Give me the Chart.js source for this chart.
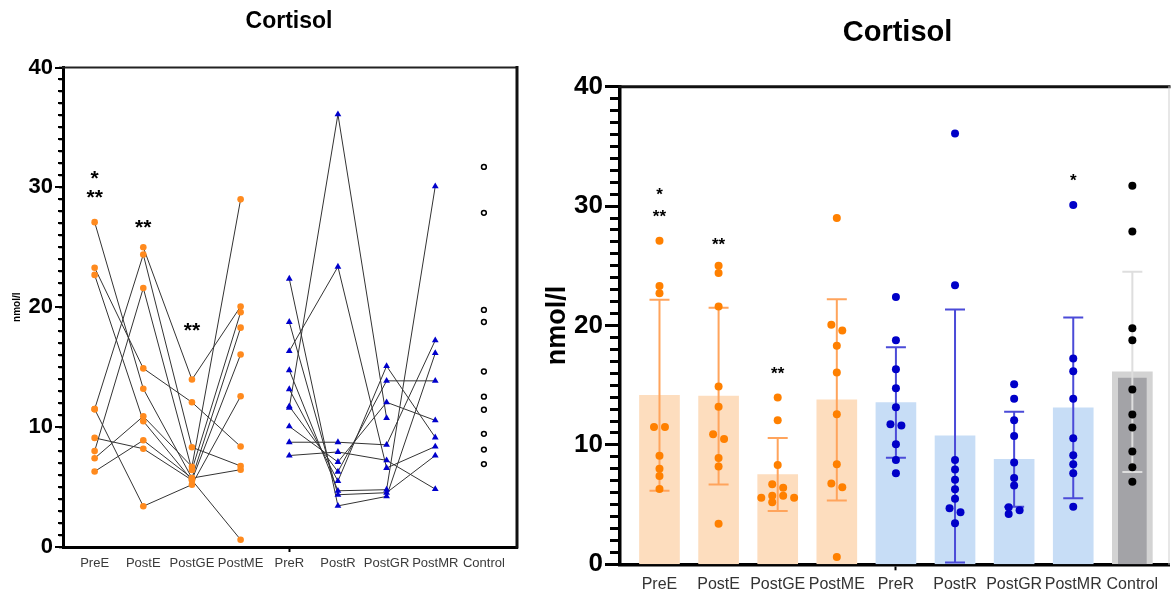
<!DOCTYPE html>
<html>
<head>
<meta charset="utf-8">
<script src="https://cdn.jsdelivr.net/npm/chart.js@4.4.1/dist/chart.umd.min.js"></script>
<style>
  body { margin: 0; background: #fff; width: 1173px; height: 597px; overflow: hidden; position: relative; }
  #left { position: absolute; left: 0; top: 0; }
  #right { position: absolute; left: 540px; top: 0; }
</style>
</head>
<body>
<canvas id="left" width="540" height="597"></canvas>
<canvas id="right" width="633" height="597"></canvas>
<script>
var categories = ["PreE", "PostE", "PostGE", "PostME", "PreR", "PostR", "PostGR", "PostMR", "Control"];

// one entry per subject, null = no value
var preE   = [27.1, 23.3, 22.7, 11.5, 11.5, 9.1, 8.0, 7.4, 6.3, null];
var postE  = [13.2, 14.9, 10.5, 3.4, 24.4, 8.2, 21.6, 10.9, 8.9, 25.0];
var postGE = [5.75, 12.07, 5.58, 5.2, 8.32, 5.58, 6.42, 6.7, 5.75, 13.97];
var postME = [18.3, 8.38, 16.06, 12.57, 6.76, 0.61, 19.58, 29.0, 6.45, 20.06];

var preR   = [22.38, 18.77, 16.34, 14.75, 13.16, 11.73, 11.62, 10.06, 8.74, 7.63];
var postR  = [3.43, 4.36, 23.38, 4.69, 5.5, 6.28, 36.09, 7.09, 8.74, 7.93];
var postGR = [4.22, 4.53, 6.59, 4.78, 15.09, 13.86, 10.75, 12.07, 8.52, 7.23];
var postMR = [16.17, 7.63, 8.38, 30.09, 9.14, 13.86, null, 10.56, 17.24, 4.83];

var control = [31.71, 27.88, 19.78, 18.77, 14.64, 12.54, 11.45, 9.44, 8.13, 6.92];

// bar chart: mean and SD per category
var means = [14.16, 14.08, 7.52, 13.77, 13.55, 10.75, 8.8, 13.1, 16.12];
var sds   = [8.0, 7.4, 3.05, 8.43, 4.63, 10.6, 3.97, 7.57, 8.39];
var controlInner = 15.59;

// y axis ticks
var majorTickValues = [0, 10, 20, 30, 40];

// significance marks
var leftMarkCat  = [0, 0, 1, 2];
var leftMarkVal  = [31.1, 29.5, 27.0, 18.4];
var leftMarkText = ["*", "**", "**", "**"];
var rightMarkCat  = [0, 0, 1, 2, 7];
var rightMarkVal  = [31.2, 29.4, 27.0, 16.2, 32.4];
var rightMarkText = ["*", "**", "**", "**", "*"];

Chart.defaults.font.family = "Arial, 'Liberation Sans', sans-serif";
Chart.defaults.animation = false;

var eGroup = [preE, postE, postGE, postME];
var rGroup = [preR, postR, postGR, postMR];

function catTicks(s) { s.ticks = categories.map(function (c, i) { return { value: i }; }); }
// a tick at every unit, labels only on the major values
function unitTicks(s) {
  var t = [];
  for (var v = 0; v <= 40; v++) t.push({ value: v });
  s.ticks = t;
}
function majorLabel(v) { return majorTickValues.indexOf(v) >= 0 ? String(v) : ""; }

function groupPoints(group, start, offsets) {
  var pts = [];
  group.forEach(function (arr, k) {
    arr.forEach(function (v, s) {
      if (v === null) return;
      pts.push({ x: start + k + (offsets ? offsets[k][s] : 0), y: v });
    });
  });
  return pts;
}

// simple beeswarm so equal values sit side by side (x offset in category units)
function swarm(vals) {
  var yPx = 11.94, xPx = 59.4, step = 11, minD = 6.5;
  var off = vals.map(function () { return 0; });
  var order = [];
  vals.forEach(function (v, i) { if (v !== null) order.push(i); });
  order.sort(function (a, b) { return vals[b] - vals[a]; });
  var clusters = [], cur = [];
  order.forEach(function (i, k) {
    if (k > 0 && (vals[order[k - 1]] - vals[i]) * yPx >= minD) { clusters.push(cur); cur = []; }
    cur.push(i);
  });
  if (cur.length) clusters.push(cur);
  clusters.forEach(function (cl) {
    var placed = [];
    cl.forEach(function (i) {
      var cands = [0, 1, -1, 2, -2, 3, -3];
      for (var n = 0; n < cands.length; n++) {
        var c = cands[n];
        var ok = placed.every(function (p) {
          var dx = (c - p.c) * step, dy = (vals[i] - vals[p.i]) * yPx;
          return dx * dx + dy * dy >= minD * minD;
        });
        if (ok) { placed.push({ i: i, c: c }); break; }
      }
    });
    var cs = placed.map(function (p) { return p.c; });
    var mid = (Math.max.apply(null, cs) + Math.min.apply(null, cs)) / 2;
    placed.forEach(function (p) { off[p.i] = (p.c - mid) * step / xPx; });
  });
  return off;
}

function framePlugin(top, right) {
  return {
    id: "frame",
    afterDraw: function (chart) {
      var a = chart.chartArea, ctx = chart.ctx;
      ctx.save();
      ctx.lineCap = "square";
      ctx.strokeStyle = top.color; ctx.lineWidth = top.width;
      ctx.beginPath(); ctx.moveTo(a.left, a.top); ctx.lineTo(a.right, a.top); ctx.stroke();
      ctx.strokeStyle = right.color; ctx.lineWidth = right.width;
      ctx.beginPath(); ctx.moveTo(a.right, a.top); ctx.lineTo(a.right, a.bottom); ctx.stroke();
      ctx.restore();
    }
  };
}

// tick comb along the y axis: short marks at every unit, longer at majors
function tickCombPlugin(minorLen, majorLen, width, axisW) {
  return {
    id: "tickComb",
    afterDraw: function (chart) {
      var y = chart.scales.y, ctx = chart.ctx, x0 = Math.round(chart.chartArea.left - axisW / 2);
      ctx.save();
      ctx.fillStyle = "#000";
      for (var v = 0; v <= 40; v++) {
        var len = majorTickValues.indexOf(v) >= 0 ? majorLen : minorLen;
        var py = y.getPixelForValue(v);
        ctx.fillRect(x0 - len, Math.round(py - width / 2), len, width);
      }
      ctx.restore();
    }
  };
}

function textPlugin(title, titleSize, tx, ty, cats, vals, texts, markSize) {
  return {
    id: "texts",
    afterDraw: function (chart) {
      var ctx = chart.ctx;
      ctx.save();
      ctx.fillStyle = "#000";
      ctx.textAlign = "center";
      ctx.textBaseline = "middle";
      ctx.font = "bold " + titleSize + "px Arial, 'Liberation Sans', sans-serif";
      ctx.fillText(title, tx, ty);
      ctx.font = "bold " + markSize + "px Arial, 'Liberation Sans', sans-serif";
      for (var i = 0; i < cats.length; i++) {
        var px = chart.scales.x.getPixelForValue(cats[i]);
        var py = chart.scales.y.getPixelForValue(vals[i]);
        ctx.fillText(texts[i], px, py + 0.22 * markSize);
      }
      ctx.restore();
    }
  };
}

// ---------- left: paired lines ----------
var leftSets = [];
var orangeL = "#FF8A1E", blueL = "#0000CC";
leftSets.push({ data: groupPoints(eGroup, 0), pointStyle: "circle", pointRadius: 3.3, backgroundColor: orangeL, borderWidth: 0, order: 0 });
leftSets.push({ data: groupPoints(rGroup, 4), pointStyle: "triangle", pointRadius: 3.9, backgroundColor: blueL, borderWidth: 0, order: 0 });
leftSets.push({ data: control.map(function (v) { return { x: 8, y: v }; }), pointStyle: "circle", pointRadius: 2.4, backgroundColor: "#fff", borderColor: "#000", borderWidth: 1.5, order: 0 });
[eGroup, rGroup].forEach(function (group, g) {
  for (var s = 0; s < group[0].length; s++) {
    var pts = [];
    group.forEach(function (arr, k) { if (arr[s] !== null) pts.push({ x: g * 4 + k, y: arr[s] }); });
    leftSets.push({ data: pts, showLine: true, borderColor: "#333", borderWidth: 1, pointRadius: 0, order: 5 });
  }
});

new Chart(document.getElementById("left"), {
  type: "scatter",
  data: { datasets: leftSets },
  options: {
    responsive: false,
    layout: { padding: { left: 0, right: 23, top: 67.5, bottom: 0 } },
    plugins: { legend: { display: false }, tooltip: { enabled: false } },
    scales: {
      x: {
        type: "linear", min: -0.65, max: 8.68,
        afterBuildTicks: catTicks,
        afterFit: function (s) { s.height = 50; },
        ticks: { callback: function (v) { return categories[v]; }, font: { size: 13 }, color: "#3a3a3a", padding: 4, maxRotation: 0, autoSkip: false },
        grid: { drawOnChartArea: false, tickLength: 5, tickWidth: 2, tickColor: function (c) { return c.tick && c.tick.value === 4 ? "#000" : "rgba(0,0,0,0)"; } },
        border: { color: "#000", width: 3 }
      },
      y: {
        min: 0, max: 40,
        afterBuildTicks: unitTicks,
        afterFit: function (s) { s.width = 63; },
        ticks: { callback: majorLabel, autoSkip: false, font: { size: 22, weight: "bold" }, color: "#000", padding: 6 },
        grid: { drawOnChartArea: false, tickLength: 4, tickWidth: 1.6, tickColor: "#000" },
        border: { color: "#000", width: 3 },
        title: { display: true, text: "nmol/l", font: { size: 10, weight: "bold" }, color: "#000", padding: { top: 11, bottom: 0 } }
      }
    }
  },
  plugins: [
    framePlugin({ color: "#222", width: 2 }, { color: "#111", width: 3 }),
    tickCombPlugin(4, 7, 2, 3),
    textPlugin("Cortisol", 23, 289, 21.5, leftMarkCat, leftMarkVal, leftMarkText, 21)
  ]
});

// ---------- right: bars with SD and points ----------
var eOff = eGroup.map(swarm), rOff = rGroup.map(swarm), cOff = swarm(control);
var barColors = ["#FDDDBE", "#FDDDBE", "#FDDDBE", "#FDDDBE", "#C7DDF6", "#C7DDF6", "#C7DDF6", "#C7DDF6", "#D3D3D3"];
var errColors = ["#FFA45C", "#FFA45C", "#FFA45C", "#FFA45C", "#4B4BD8", "#4B4BD8", "#4B4BD8", "#4B4BD8", "#DEDEDE"];

var errorBarPlugin = {
  id: "errorBars",
  afterDatasetDraw: function (chart, args) {
    if (args.index !== 3) return;
    var ctx = chart.ctx, xs = chart.scales.x, ys = chart.scales.y;
    ctx.save();
    ctx.lineWidth = 2;
    for (var i = 0; i < means.length; i++) {
      var px = xs.getPixelForValue(i);
      var hi = ys.getPixelForValue(means[i] + sds[i]);
      var lo = ys.getPixelForValue(Math.max(0, means[i] - sds[i]));
      ctx.strokeStyle = errColors[i];
      ctx.beginPath();
      ctx.moveTo(px, hi); ctx.lineTo(px, lo);
      ctx.moveTo(px - 10, hi); ctx.lineTo(px + 10, hi);
      ctx.moveTo(px - 10, lo); ctx.lineTo(px + 10, lo);
      ctx.stroke();
    }
    ctx.restore();
  }
};

new Chart(document.getElementById("right"), {
  type: "bar",
  data: {
    datasets: [
      { type: "scatter", data: groupPoints(eGroup, 0, eOff), pointRadius: 4, backgroundColor: "#FF8000", borderWidth: 0, order: 0 },
      { type: "scatter", data: groupPoints(rGroup, 4, rOff), pointRadius: 4, backgroundColor: "#0000C8", borderWidth: 0, order: 0 },
      { type: "scatter", data: control.map(function (v, i) { return { x: 8 + cOff[i], y: v }; }), pointRadius: 4, backgroundColor: "#000", borderWidth: 0, order: 0 },
      { type: "bar", data: [{ x: 8, y: controlInner }], backgroundColor: "#A3A3A7", barThickness: 28, grouped: false, order: 1 },
      { type: "bar", data: means.map(function (m, i) { return { x: i, y: m }; }), backgroundColor: barColors, barThickness: 40, grouped: false, order: 2 }
    ]
  },
  options: {
    responsive: false,
    layout: { padding: { left: 0, right: 1, top: 86.7, bottom: 0 } },
    plugins: { legend: { display: false }, tooltip: { enabled: false } },
    scales: {
      x: {
        type: "linear", min: -0.668, max: 8.62, offset: false,
        afterBuildTicks: catTicks,
        afterFit: function (s) { s.height = 32.7; },
        ticks: { callback: function (v) { return categories[v]; }, font: { size: 16 }, color: "#333", padding: 5, maxRotation: 0, autoSkip: false },
        grid: { drawOnChartArea: false, offset: false, tickLength: 6, tickWidth: 2, tickColor: function (c) { return c.tick && c.tick.value === 4 ? "#000" : "rgba(0,0,0,0)"; } },
        border: { color: "#000", width: 3.5 }
      },
      y: {
        min: 0, max: 40,
        afterBuildTicks: unitTicks,
        afterFit: function (s) { s.width = 80; },
        ticks: { callback: majorLabel, autoSkip: false, font: { size: 26, weight: "bold" }, color: "#000", padding: 9 },
        grid: { drawOnChartArea: false, tickLength: 8, tickWidth: 2.5, tickColor: "#000" },
        border: { color: "#000", width: 3.5 },
        title: { display: true, text: "nmol/l", font: { size: 27, weight: "bold" }, color: "#000", padding: { top: 1, bottom: 0 } }
      }
    }
  },
  plugins: [
    errorBarPlugin,
    framePlugin({ color: "#111", width: 3 }, { color: "#cfcfcf", width: 1 }),
    tickCombPlugin(8, 13, 3, 3.5),
    textPlugin("Cortisol", 29, 357.5, 32.5, rightMarkCat, rightMarkVal, rightMarkText, 17)
  ]
});
</script>
</body>
</html>
